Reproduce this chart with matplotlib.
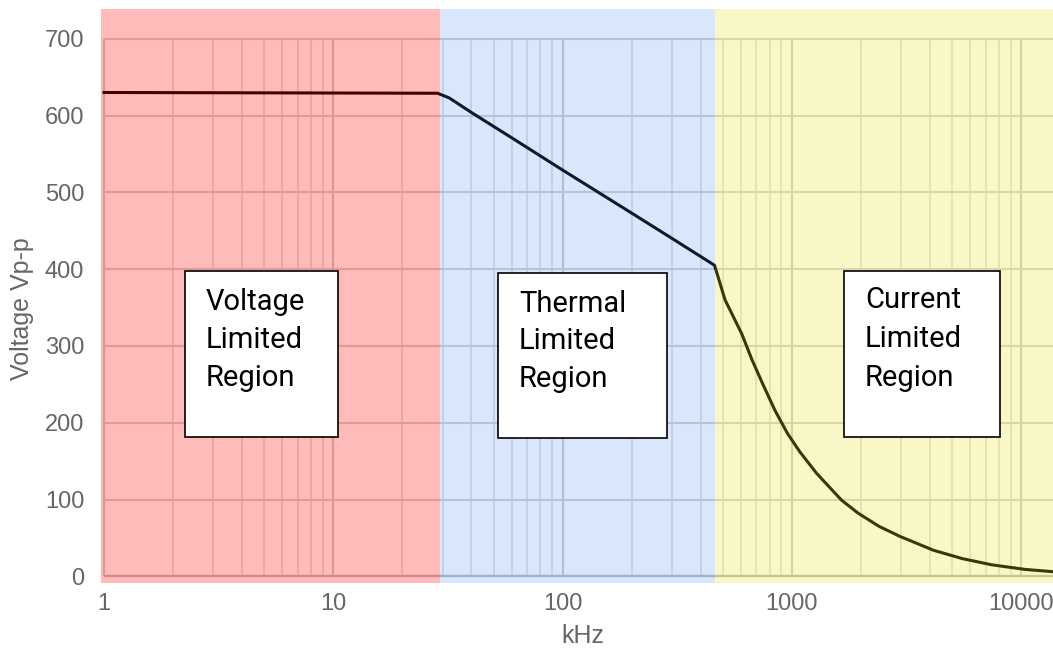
import matplotlib
matplotlib.use("Agg")
import matplotlib.pyplot as plt
from matplotlib.patches import Rectangle
from matplotlib.ticker import NullLocator

# curve (kHz, Vp-p)
freq_khz = [1, 28.5, 32, 40, 60, 100, 200, 300, 460,
            511, 604, 670, 745, 844, 957, 1084, 1283, 1649, 1950,
            2402, 2960, 4140, 5546, 7436, 10400, 13800]
voltage_vpp = [630, 629, 623, 604, 571, 529, 473, 440, 405,
               360, 316, 282, 251, 216, 186, 162, 134, 99, 82,
               65, 52, 34, 23, 15, 9, 6]

# shaded regions
region_edges = [0.97, 29.1, 460, 13770]
region_colors = ["#ff0000", "#4285f4", "#efe323"]
region_alpha = [0.27, 0.2, 0.25]
region_labels = [["Voltage", "Limited", "Region"],
                 ["Thermal", "Limited", "Region"],
                 ["Current", "Limited", "Region"]]

x_ticks = [1, 10, 100, 1000, 10000]
y_ticks = [0, 100, 200, 300, 400, 500, 600, 700]

plt.rcParams["font.family"] = ["Liberation Sans", "DejaVu Sans"]

W, H = 1053, 653
fig = plt.figure(figsize=(W / 100, H / 100), dpi=100)
ax = fig.add_axes([101 / W, 1 - 583 / H, 952 / W, 574 / H])
ax.set_xscale("log")
ax.set_xlim(region_edges[0], region_edges[-1])
ax.set_ylim(-8.7, 738.7)

# grid only inside the data range
minor_x = [m * 10 ** d for d in range(5) for m in range(2, 10) if m * 10 ** d <= region_edges[-1]]
ax.vlines(minor_x, 0, y_ticks[-1], colors="#e2e2e2", lw=1.3, zorder=1)
ax.vlines(x_ticks, 0, y_ticks[-1], colors="#cdcdcd", lw=1.5, zorder=1)
ax.hlines(y_ticks[1:], 1, region_edges[-1], colors="#d4d4d4", lw=1.5, zorder=1)
ax.hlines(0, 1, region_edges[-1], colors="#bcbcbc", lw=1.7, zorder=1)

ax.plot(freq_khz, voltage_vpp, color="black", lw=2.2, zorder=2,
        solid_joinstyle="round")

for i in range(3):
    ax.axvspan(region_edges[i], region_edges[i + 1], color=region_colors[i],
               alpha=region_alpha[i], lw=0, zorder=3)

for s in ax.spines.values():
    s.set_visible(False)
ax.set_xticks(x_ticks, [str(t) for t in x_ticks])
ax.xaxis.set_minor_locator(NullLocator())
ax.set_yticks(y_ticks)
ax.tick_params(axis="both", length=0, labelsize=17, labelcolor="#666666")
ax.tick_params(axis="x", pad=7)
ax.tick_params(axis="y", pad=12)

ax.set_xlabel("kHz", fontsize=18, color="#666666")
ax.xaxis.set_label_coords(0.506, -0.072)
ax.set_ylabel("Voltage Vp-p", fontsize=18, color="#666666")
ax.yaxis.set_label_coords(-0.07, 0.478)

# annotation boxes, placed in pixel layout of the figure
boxes = [(185, 271, 338, 437), (498, 273, 667, 438), (844, 271, 1000, 437)]
text_left = [206, 519, 865]
baselines = [[310, 348, 386], [312, 349, 387], [308, 347, 386]]
for (x0, y0, x1, y1), tx, bls, lines in zip(boxes, text_left, baselines, region_labels):
    fig.patches.append(Rectangle((x0 / W, 1 - y1 / H), (x1 - x0) / W, (y1 - y0) / H,
                                 transform=fig.transFigure, facecolor="white",
                                 edgecolor="black", lw=1.2, zorder=5))
    for line, by in zip(lines, bls):
        fig.text(tx / W, 1 - by / H, line, fontsize=21, family=["Roboto", "DejaVu Sans"],
                 ha="left", va="baseline", color="black", zorder=6)

fig.savefig("out.png", dpi=100)
